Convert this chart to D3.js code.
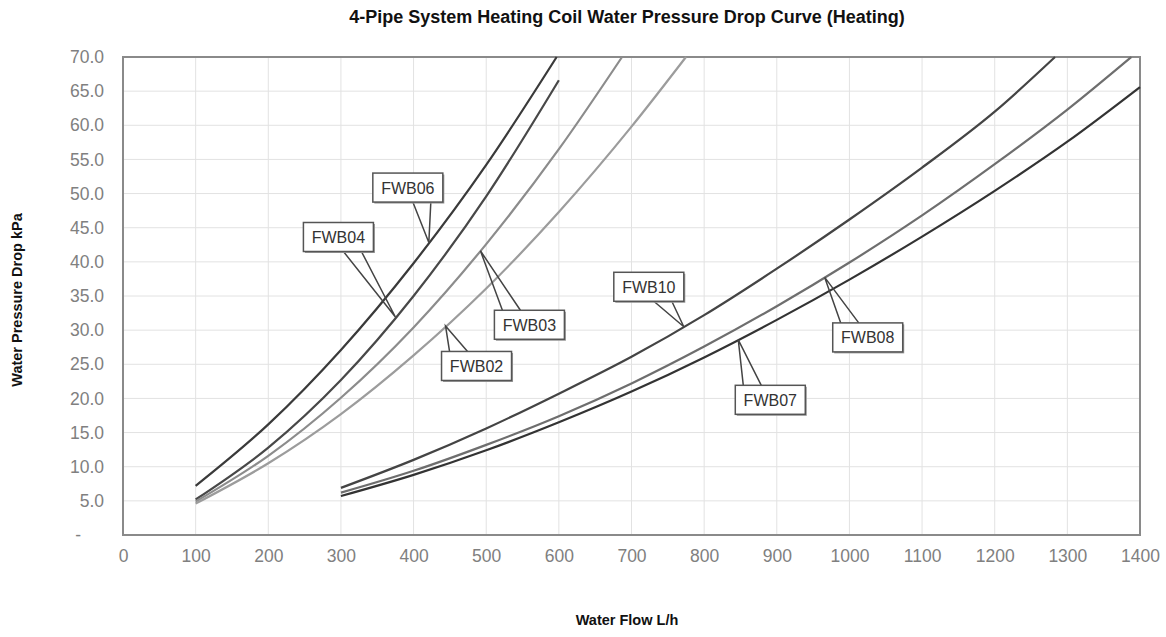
<!DOCTYPE html>
<head>
	<script src="https://d3js.org/d3.v7.min.js"></script>
	<style>
		body {
			margin: 0;
			background: #fff;
		}
		svg { font-family: "Liberation Sans", Arial, sans-serif; }
		.title { font-size: 18px; font-weight: bold; fill: #111; }
		.axis-title { font-size: 14.5px; font-weight: bold; fill: #111; }
		.tick-label { font-size: 17.5px; fill: #808080; }
		.callout text { font-size: 16px; fill: #333; }
	</style>
</head>
<body>
	<script>
		// values
		var fwb06Flow = [100, 200, 300, 400, 500, 597];
		var fwb06Drop = [7.2, 16.2, 27.1, 39.8, 54.2, 70.0];
		var fwb04Flow = [100, 200, 300, 400, 500, 600];
		var fwb04Drop = [5.2, 12.8, 22.7, 35.0, 49.6, 66.6];
		var fwb03Flow = [100, 200, 300, 400, 500, 600, 687];
		var fwb03Drop = [4.9, 11.6, 20.1, 30.4, 42.6, 56.5, 70.0];
		var fwb02Flow = [100, 200, 300, 400, 500, 600, 700, 775];
		var fwb02Drop = [4.6, 10.5, 17.7, 26.3, 36.1, 47.3, 59.8, 70.0];
		var fwb10Flow = [300, 400, 500, 600, 700, 800, 900, 1000, 1100, 1200, 1283];
		var fwb10Drop = [6.9, 11.0, 15.6, 20.7, 26.1, 32.2, 39.0, 46.2, 53.8, 62.0, 70.0];
		var fwb08Flow = [300, 400, 500, 600, 700, 800, 900, 1000, 1100, 1200, 1300, 1388];
		var fwb08Drop = [6.2, 9.4, 13.2, 17.4, 22.2, 27.6, 33.5, 39.9, 46.8, 54.3, 62.3, 70.0];
		var fwb07Flow = [300, 400, 500, 600, 700, 800, 900, 1000, 1100, 1200, 1300, 1400];
		var fwb07Drop = [5.7, 8.8, 12.4, 16.5, 21.0, 26.0, 31.5, 37.4, 43.7, 50.4, 57.6, 65.6];

		var xTicks = [0, 100, 200, 300, 400, 500, 600, 700, 800, 900, 1000, 1100, 1200, 1300, 1400];
		var yTicks = [0, 5, 10, 15, 20, 25, 30, 35, 40, 45, 50, 55, 60, 65, 70];

		var series = [
			{ name: "FWB06", flow: fwb06Flow, drop: fwb06Drop, color: "#3a3a3a" },
			{ name: "FWB04", flow: fwb04Flow, drop: fwb04Drop, color: "#484848" },
			{ name: "FWB03", flow: fwb03Flow, drop: fwb03Drop, color: "#8c8c8c" },
			{ name: "FWB02", flow: fwb02Flow, drop: fwb02Drop, color: "#9c9c9c" },
			{ name: "FWB10", flow: fwb10Flow, drop: fwb10Drop, color: "#444" },
			{ name: "FWB08", flow: fwb08Flow, drop: fwb08Drop, color: "#6e6e6e" },
			{ name: "FWB07", flow: fwb07Flow, drop: fwb07Drop, color: "#333" }
		];

		// callouts: anchor flow on the curve, box offset from the anchor in px
		var callouts = [
			{ name: "FWB06", at: 421, dx: -21, dy: -55 },
			{ name: "FWB04", at: 375, dx: -57, dy: -80 },
			{ name: "FWB03", at: 492, dx: 49, dy: 74 },
			{ name: "FWB02", at: 444, dx: 31, dy: 40 },
			{ name: "FWB10", at: 772, dx: -35, dy: -40 },
			{ name: "FWB08", at: 966, dx: 43, dy: 60 },
			{ name: "FWB07", at: 847, dx: 32, dy: 60 }
		];

		var width = 1166, height = 637;
		var margin = { top: 57, right: 26, bottom: 102, left: 123 };

		var svg = d3.select("body").append("svg")
			.attr("width", width)
			.attr("height", height);

		var x = d3.scaleLinear()
			.domain([0, 1400])
			.range([margin.left, width - margin.right]);
		var y = d3.scaleLinear()
			.domain([0, 70])
			.range([height - margin.bottom, margin.top]);

		// grid
		svg.append("g")
			.selectAll("line")
			.data(xTicks.slice(1, -1))
			.enter().append("line")
			.attr("x1", d => x(d)).attr("x2", d => x(d))
			.attr("y1", y(0)).attr("y2", y(70))
			.attr("stroke", "#e2e2e2").attr("stroke-width", 1);
		svg.append("g")
			.selectAll("line")
			.data(yTicks.slice(1, -1))
			.enter().append("line")
			.attr("x1", x(0)).attr("x2", x(1400))
			.attr("y1", d => y(d)).attr("y2", d => y(d))
			.attr("stroke", "#e2e2e2").attr("stroke-width", 1);

		// axes
		var xAxis = d3.axisBottom(x).tickValues(xTicks).tickSize(0).tickPadding(15)
			.tickFormat(d3.format("d"));
		var yAxis = d3.axisLeft(y).tickValues(yTicks).tickSize(0).tickPadding(19)
			.tickFormat(d => d === 0 ? "-" : d3.format(".1f")(d));

		var gx = svg.append("g")
			.attr("transform", "translate(0," + y(0) + ")")
			.call(xAxis);
		var gy = svg.append("g")
			.attr("transform", "translate(" + x(0) + ",0)")
			.call(yAxis);
		[gx, gy].forEach(g => {
			g.select(".domain").remove();
			g.selectAll("text").attr("class", "tick-label").attr("font-family", null).attr("font-size", null);
		});
		gy.selectAll(".tick").filter(d => d === 0).select("text").attr("dx", -23);

		// frame
		svg.append("rect")
			.attr("x", x(0)).attr("y", y(70))
			.attr("width", x(1400) - x(0)).attr("height", y(0) - y(70))
			.attr("fill", "none").attr("stroke", "#8a8a8a").attr("stroke-width", 2);

		// curves
		var line = d3.line()
			.x(d => x(d[0]))
			.y(d => y(d[1]))
			.curve(d3.curveMonotoneX);

		svg.append("g")
			.selectAll("path")
			.data(series)
			.enter().append("path")
			.attr("d", s => line(d3.zip(s.flow, s.drop)))
			.attr("fill", "none")
			.attr("stroke", s => s.color)
			.attr("stroke-width", 2.2);

		// callout labels
		function dropAt(s, f) {
			var i = d3.bisectLeft(s.flow, f);
			var x0 = s.flow[i - 1], x1 = s.flow[i];
			var t = (f - x0) / (x1 - x0);
			return s.drop[i - 1] + t * (s.drop[i] - s.drop[i - 1]);
		}

		var boxW = 70, boxH = 29;
		var cg = svg.append("g").attr("class", "callout");
		callouts.forEach(c => {
			var s = series.find(d => d.name === c.name);
			var tx = x(c.at), ty = y(dropAt(s, c.at));
			var cx = tx + c.dx, cy = ty + c.dy;
			var edge = ty > cy ? cy + boxH / 2 : cy - boxH / 2;
			var b = tx > cx ? [cx + 5, cx + 23] : [cx - 27, cx - 9];

			cg.append("path")
				.attr("d", "M" + b[0] + "," + edge + "L" + tx + "," + ty + "L" + b[1] + "," + edge)
				.attr("fill", "none").attr("stroke", "#444").attr("stroke-width", 1.5);
			cg.append("rect")
				.attr("x", cx - boxW / 2 + 1.5).attr("y", cy - boxH / 2 + 1.5)
				.attr("width", boxW).attr("height", boxH)
				.attr("fill", "#9a9a9a");
			cg.append("rect")
				.attr("x", cx - boxW / 2).attr("y", cy - boxH / 2)
				.attr("width", boxW).attr("height", boxH)
				.attr("fill", "#fff").attr("stroke", "#555").attr("stroke-width", 1.5);
			cg.append("text")
				.attr("x", cx).attr("y", cy + 6)
				.attr("text-anchor", "middle")
				.text(c.name);
		});

		// titles
		svg.append("text").attr("class", "title")
			.attr("x", 627).attr("y", 23)
			.attr("text-anchor", "middle")
			.text("4-Pipe System Heating Coil Water Pressure Drop Curve (Heating)");
		svg.append("text").attr("class", "axis-title")
			.attr("x", 627).attr("y", 625)
			.attr("text-anchor", "middle")
			.text("Water Flow L/h");
		svg.append("text").attr("class", "axis-title")
			.attr("transform", "translate(22,300) rotate(-90)")
			.attr("text-anchor", "middle")
			.text("Water Pressure Drop kPa");
	</script>
</body>
</html>
